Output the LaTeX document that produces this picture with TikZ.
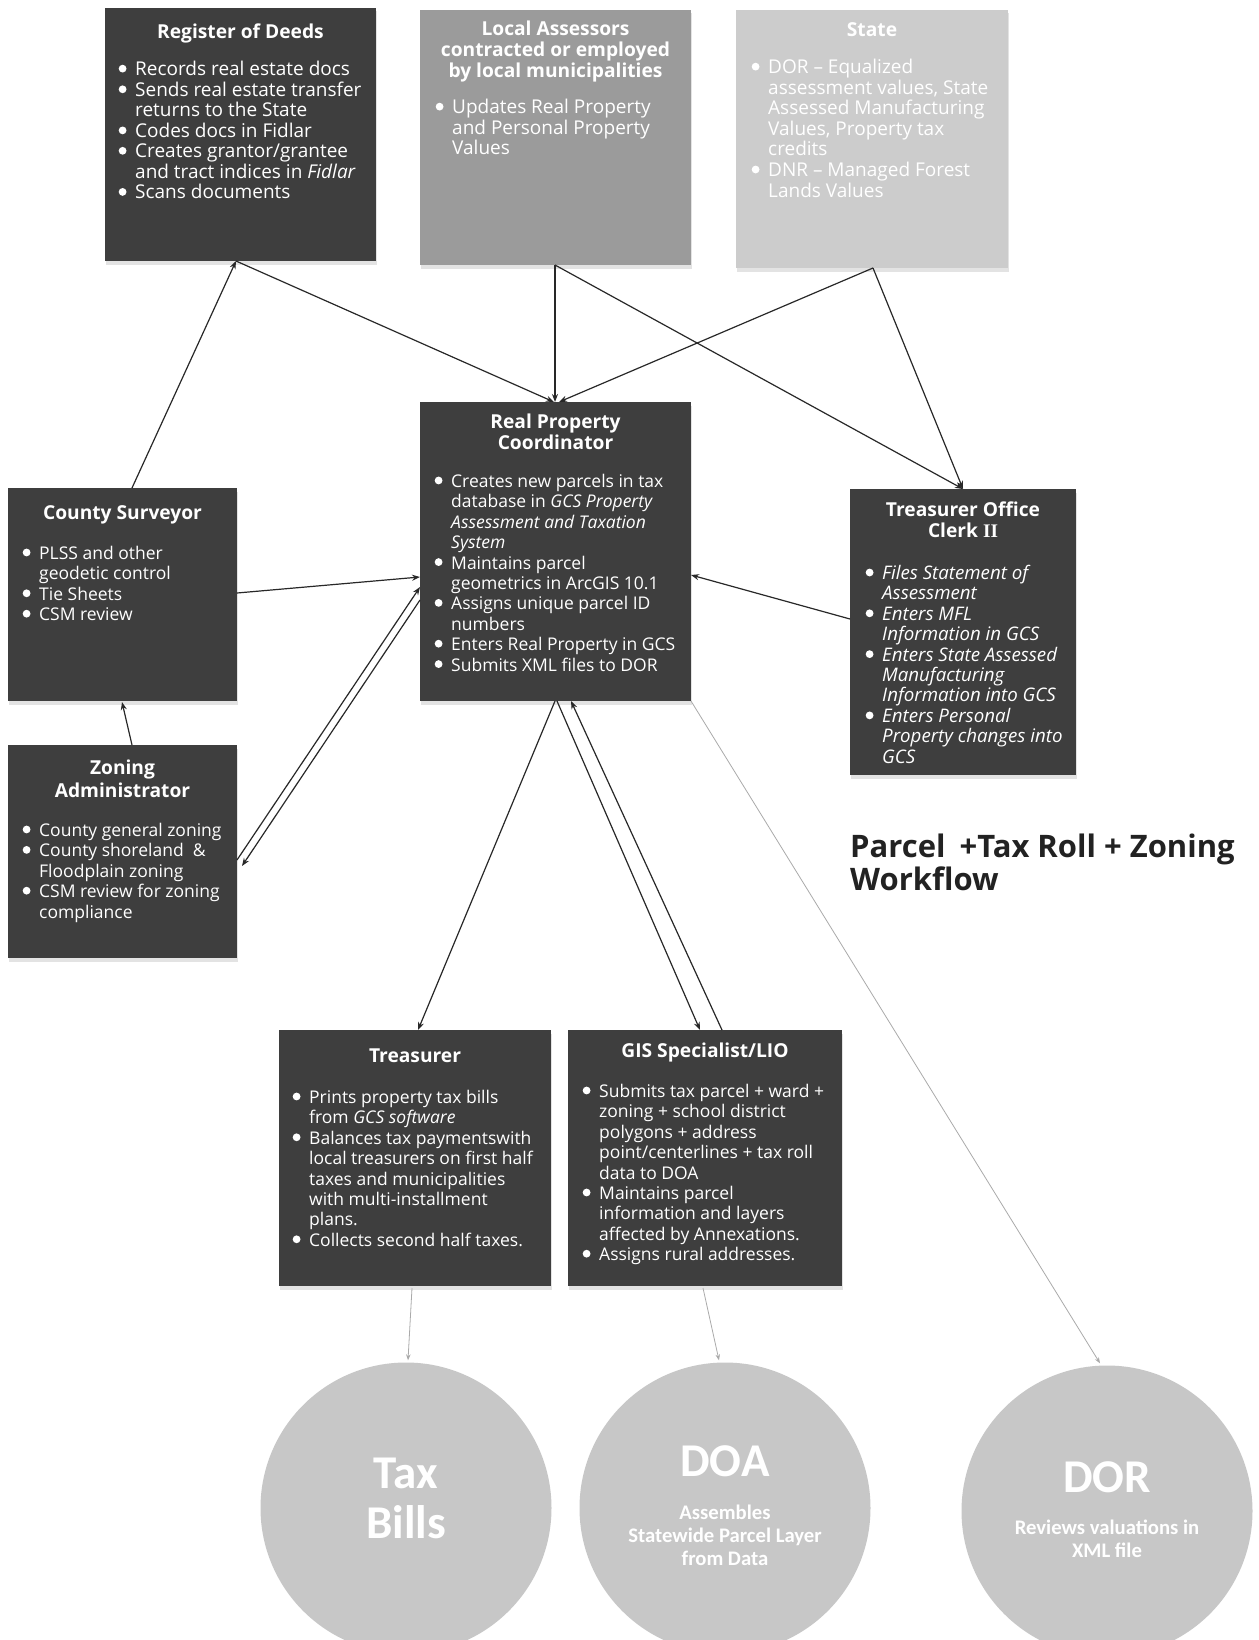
\documentclass[tikz,border=0pt]{standalone}
\usepackage{fontspec}
\usepackage{graphicx}
\setmainfont{Open Sans}
\newfontfamily\carl{Carlito}
\newfontfamily\romII{Liberation Serif}
\usetikzlibrary{calc,arrows.meta,shadows}
\definecolor{boxdark}{RGB}{62,62,62}
\definecolor{boxmid}{RGB}{155,155,155}
\definecolor{boxlight}{RGB}{204,204,204}
\definecolor{circfill}{RGB}{199,199,199}
\definecolor{linecol}{RGB}{40,40,40}
\definecolor{faint}{RGB}{170,170,170}
\definecolor{titlecol}{RGB}{34,34,34}
\newcommand\bdot{\hspace*{-1.5pt}\tikz[x=1pt,y=1pt,baseline=0pt]\fill[white] (0,7) circle (3.9);}
\newcommand\bt{\bdot&}
\newcommand\hd[1]{\begin{tabular}[t]{@{}c@{}}#1\end{tabular}}
\newcommand\bl[1]{\begin{tabular}[t]{@{}p{15pt}@{}l@{}}#1\end{tabular}}
\begin{document}
\begin{tikzpicture}[x=1pt,y=-1pt,
 box/.style={rectangle, anchor=north west, inner sep=0pt, outer sep=0pt, fill=boxdark,
   drop shadow={shadow xshift=0.6pt, shadow yshift=-3.5pt, opacity=0.22}},
 hdr/.style={anchor=north, inner sep=0pt, text=white, font=\fontsize{19.2}{20.5}\selectfont\bfseries},
 body/.style={anchor=north west, inner sep=0pt, text=white, font=\fontsize{17.5}{20.4}\selectfont},
 bigbody/.style={body, font=\fontsize{19}{20.4}\selectfont},
 conn/.style={draw=linecol, line width=1.2pt, -{Stealth[length=8pt,width=6pt]}},
 fconn/.style={draw=faint, line width=0.8pt, -{Stealth[length=6pt,width=4.5pt]}},
 circ/.style={circle, fill=circfill, minimum size=291pt, inner sep=0pt},
 ctxt/.style={inner sep=0pt, text=white, font=\carl\bfseries\fontsize{47}{50}\selectfont},
 csub/.style={inner sep=0pt, text=white, font=\carl\bfseries\fontsize{20.7}{23}\selectfont},
 titletxt/.style={anchor=north west, inner sep=0pt, text=titlecol, font=\fontsize{31}{31}\selectfont\bfseries}]
\useasboundingbox (0,0) rectangle (1258,1640);
\fill[white] (0,0) rectangle (1258,1640);
\clip (0,0) rectangle (1258,1640);

% boxes
\node[box, minimum width=271pt, minimum height=253pt] (rod) at (105,8) {};
\node[box, fill=boxmid, minimum width=271pt, minimum height=255pt] (las) at (420,10) {};
\node[box, fill=boxlight, minimum width=272pt, minimum height=258pt] (sta) at (736,10) {};
\node[box, minimum width=271pt, minimum height=299pt] (rpc) at (420,402) {};
\node[box, minimum width=229pt, minimum height=213pt] (cs) at (8,488) {};
\node[box, minimum width=229pt, minimum height=213pt] (za) at (8,745) {};
\node[box, minimum width=226pt, minimum height=286pt] (toc) at (850,489) {};
\node[box, minimum width=272pt, minimum height=256pt] (tre) at (279,1030) {};
\node[box, minimum width=274pt, minimum height=256pt] (gis) at (568,1030) {};

% circles
\node[circ] (ctb) at (406,1508) {};
\node[circ] (cdoa) at (725,1508) {};
\node[circ] (cdor) at (1107,1511) {};

% connectors
\draw[conn] ($(cs.north west)+(124,0)$) -- ($(rod.north west)+(131,253)$);
\draw[conn] ($(rod.north west)+(131,253)$) -- ($(rpc.north west)+(134,0)$);
\draw[conn] ($(las.north west)+(135,255)$) -- ($(rpc.north west)+(135,0)$);
\draw[conn] ($(las.north west)+(135,255)$) -- ($(toc.north west)+(113,0)$);
\draw[conn] ($(sta.north west)+(137,258)$) -- ($(rpc.north west)+(139,0)$);
\draw[conn] ($(sta.north west)+(137,258)$) -- ($(toc.north west)+(113,0)$);
\draw[conn] ($(cs.north west)+(229,105)$) -- ($(rpc.north west)+(0,175)$);
\draw[conn] ($(za.north west)+(124,0)$) -- ($(cs.north west)+(114,214)$);
\draw[conn] ($(za.north west)+(229,115)$) -- ($(rpc.north west)+(0,185)$);
\draw[conn] ($(rpc.north west)+(0,198)$) -- ($(za.north west)+(234,121)$);
\draw[conn] ($(toc.north west)+(0,130)$) -- ($(rpc.north west)+(271,173)$);
\draw[conn] ($(rpc.north west)+(135,299)$) -- ($(tre.north west)+(139,0)$);
\draw[conn] ($(rpc.north west)+(137,299)$) -- ($(gis.north west)+(132,0)$);
\draw[conn] ($(gis.north west)+(154,0)$) -- ($(rpc.north west)+(151,299)$);
\draw[fconn] (rpc.south east) -- ($(cdor.north)+(-7,-2)$);
\draw[fconn] ($(tre.south)+(-3,2)$) -- ($(ctb.north)+(2,-2)$);
\draw[fconn] ($(gis.south)+(-2,2)$) -- ($(cdoa.north)+(-6,-2)$);

% texts
\node[hdr] (rod-h) at ($(rod.north)+(0,16)$) {\hd{Register of Deeds}};
\node[bigbody] (rod-b) at ($(rod.north west)+(15,53)$) {\bl{
\bt Records real estate docs\\
\bt Sends real estate transfer\\
& returns to the State\\
\bt Codes docs in Fidlar\\
\bt Creates grantor/grantee\\
& and tract indices in \textit{Fidlar}\\
\bt Scans documents}};

\node[hdr] (las-h) at ($(las.north)+(0,11)$) {\hd{Local Assessors\\contracted or employed\\by local municipalities}};
\node[bigbody] (las-b) at ($(las.north west)+(17,89)$) {\bl{
\bt Updates Real Property\\
& and Personal Property\\
& Values}};

\node[hdr] (sta-h) at ($(sta.north)+(0,12)$) {\hd{State}};
\node[bigbody] (sta-b) at ($(sta.north west)+(17,49)$) {\bl{
\bt DOR – Equalized\\
& assessment values, State\\
& Assessed Manufacturing\\
& Values, Property tax\\
& credits\\
\bt DNR – Managed Forest\\
& Lands Values}};

\node[hdr] (rpc-h) at ($(rpc.north)+(0,12)$) {\hd{Real Property\\Coordinator}};
\node[body] (rpc-b) at ($(rpc.north west)+(16,71)$) {\bl{
\bt Creates new parcels in tax\\
& database in \textit{GCS Property}\\
& \textit{Assessment and Taxation}\\
& \textit{System}\\
\bt Maintains parcel\\
& geometrics in ArcGIS 10.1\\
\bt Assigns unique parcel ID\\
& numbers\\
\bt Enters Real Property in GCS\\
\bt Submits XML files to DOR}};

\node[hdr] (cs-h) at ($(cs.north)+(0,17)$) {\hd{County Surveyor}};
\node[body] (cs-b) at ($(cs.north west)+(16,57)$) {\bl{
\bt PLSS and other\\
& geodetic control\\
\bt Tie Sheets\\
\bt CSM review}};

\node[hdr, font=\fontsize{19.2}{23}\selectfont\bfseries] (za-h) at ($(za.north)+(0,13)$) {\hd{Zoning\\Administrator}};
\node[body] (za-b) at ($(za.north west)+(16,77)$) {\bl{
\bt County general zoning\\
\bt County shoreland~~\&\\
& Floodplain zoning\\
\bt CSM review for zoning\\
& compliance}};

\node[hdr] (toc-h) at ($(toc.north)+(0,13)$) {\hd{Treasurer Office\\Clerk {\romII II}}};
\node[bigbody, font=\fontsize{18.7}{20.4}\selectfont\itshape] (toc-b) at ($(toc.north west)+(17,76)$) {\bl{
\bt Files Statement of\\
& Assessment\\
\bt Enters MFL\\
& Information in GCS\\
\bt Enters State Assessed\\
& Manufacturing\\
& Information into GCS\\
\bt Enters Personal\\
& Property changes into\\
& GCS}};

\node[hdr] (tre-h) at ($(tre.north)+(0,18)$) {\hd{Treasurer}};
\node[body] (tre-b) at ($(tre.north west)+(15,59)$) {\bl{
\bt Prints property tax bills\\
& from \textit{GCS software}\\
\bt Balances tax paymentswith\\
& local treasurers on first half\\
& taxes and municipalities\\
& with multi-installment\\
& plans.\\
\bt Collects second half taxes.}};

\node[hdr] (gis-h) at ($(gis.north)+(0,13)$) {\hd{GIS Specialist/LIO}};
\node[body] (gis-b) at ($(gis.north west)+(16,53)$) {\bl{
\bt Submits tax parcel + ward +\\
& zoning + school district\\
& polygons + address\\
& point/centerlines + tax roll\\
& data to DOA\\
\bt Maintains parcel\\
& information and layers\\
& affected by Annexations.\\
\bt Assigns rural addresses.}};

\node[titletxt] (title) at (850,834) {\begin{tabular}[t]{@{}l@{}}Parcel\hspace{6pt} +Tax Roll + Zoning\\Workflow\end{tabular}};

% circle texts
\node[ctxt, anchor=north] (ctb-t) at ($(ctb.center)+(0,-55)$) {\hd{Tax\\Bills}};
\node[ctxt, anchor=base] (cdoa-t) at ($(cdoa.center)+(0,-31.5)$) {DOA};
\node[csub, anchor=north] (cdoa-s) at ($(cdoa.center)+(0,-5)$) {\hd{Assembles\\Statewide Parcel Layer\\from Data}};
\node[ctxt, anchor=base] (cdor-t) at ($(cdor.center)+(0,-18.5)$) {DOR};
\node[csub, anchor=north] (cdor-s) at ($(cdor.center)+(0,7)$) {\hd{Reviews valuations in\\XML file}};
\end{tikzpicture}
\end{document}
